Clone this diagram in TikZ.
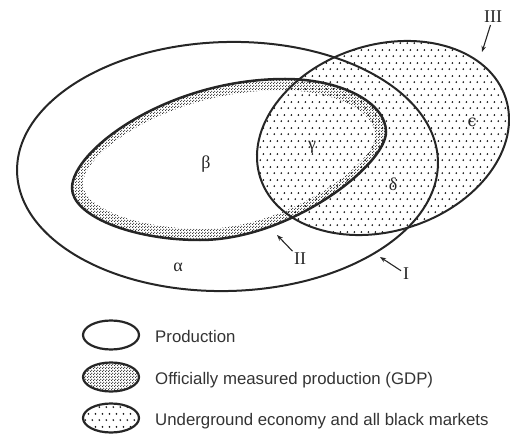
\documentclass[tikz,border=0pt]{standalone}
\usepackage{fontspec}
\setmainfont{Liberation Serif}
\newfontfamily\legendfont{Liberation Sans}
\newfontfamily\lunatefont{DejaVu Serif}
\usetikzlibrary{arrows.meta,patterns}

\pgfdeclarepatternformonly{sparsedots}{\pgfpointorigin}{\pgfpoint{7pt}{13pt}}{\pgfpoint{7pt}{13pt}}{%
  \pgfpathcircle{\pgfpoint{1.5pt}{2pt}}{1.05pt}%
  \pgfpathcircle{\pgfpoint{5pt}{8.5pt}}{1.05pt}%
  \pgfusepath{fill}}
\pgfdeclarepatternformonly{densedots}{\pgfpointorigin}{\pgfpoint{3pt}{3pt}}{\pgfpoint{3pt}{3pt}}{%
  \pgfpathcircle{\pgfpoint{0.75pt}{0.75pt}}{0.78pt}%
  \pgfpathcircle{\pgfpoint{2.25pt}{2.25pt}}{0.78pt}%
  \pgfusepath{fill}}

\def\pathII{(72,188) .. controls (72,150) and (168,79) .. (285,79) .. controls (340,79) and (386,102) .. (386,132) .. controls (386,165) and (290,240) .. (200,240) .. controls (130,240) and (72,215) .. (72,188) -- cycle}

\begin{document}
\begin{tikzpicture}[x=1pt,y=-1pt,
  outline/.style={draw=black!85, line width=2pt},
  outlinethick/.style={draw=black!85, line width=2.5pt},
  dense/.style={pattern=densedots, pattern color=black!85},
  sparse/.style={pattern=sparsedots, pattern color=black!90},
  greek/.style={font=\fontsize{18}{18}\selectfont, text=black!85},
  roman/.style={font=\fontsize{18}{18}\selectfont, text=black!85, inner sep=1pt},
  arr/.style={draw=black!85, line width=1.1pt, -{Stealth[length=6pt,width=4.5pt]}},
  legtext/.style={font=\legendfont\fontsize{16.8}{17}\selectfont, text=black!80, anchor=base west, inner sep=0pt},
  legell/.style={line width=2.2pt, draw=black!85}
]
\useasboundingbox (0,0) rectangle (510,435);

% dense ring of II
\fill[dense] \pathII;
\begin{scope}[shift={(229,160)}, xscale=0.93, yscale=0.86, shift={(-229,-160)}]
  \fill[white] \pathII;
\end{scope}
% sparse dots of III
\fill[sparse, rotate around={18:(383,138)}] (383,138) ellipse [x radius=129pt, y radius=93pt];

% outlines
\draw[outline, rotate around={1.5:(227.5,166.5)}] (227.5,166.5) ellipse [x radius=210.5pt, y radius=124.5pt];
\draw[outlinethick] \pathII;
\draw[outline, rotate around={18:(383,138)}] (383,138) ellipse [x radius=129pt, y radius=93pt];

% greek labels
\node[greek] (alpha) at (178,267) {α};
\node[greek] (beta) at (206,164) {β};
\node[greek] (gamma) at (312,147) {γ};
\node[greek] (delta) at (393,184) {δ};
\node[greek, font=\lunatefont\fontsize{16}{16}\selectfont] (eps) at (472,122) {ϵ};

% roman labels and arrows
\node[roman] (lI) at (406,274) {I};
\node[roman] (lII) at (300,259) {II};
\node[roman] (lIII) at (493,17) {III};
\coordinate (tI) at (380,257);
\coordinate (tII) at (277,235);
\coordinate (tIII) at (482,52);
\draw[arr, shorten <=1pt] (lI) -- (tI);
\draw[arr, shorten <=1pt] (lII) -- (tII);
\draw[arr, shorten <=1pt] (lIII) -- (tIII);

% legend
\path[legell] (111,335) ellipse [x radius=28pt, y radius=14.5pt];
\path[legell, dense] (111,377) ellipse [x radius=28pt, y radius=14.5pt];
\path[legell, sparse] (111,418) ellipse [x radius=28pt, y radius=14.5pt];
\node[legtext] (t1) at (155,342) {Production};
\node[legtext] (t2) at (155,384) {Officially measured production (GDP)};
\node[legtext] (t3) at (155,425) {Underground economy and all black markets};
\end{tikzpicture}
\end{document}
